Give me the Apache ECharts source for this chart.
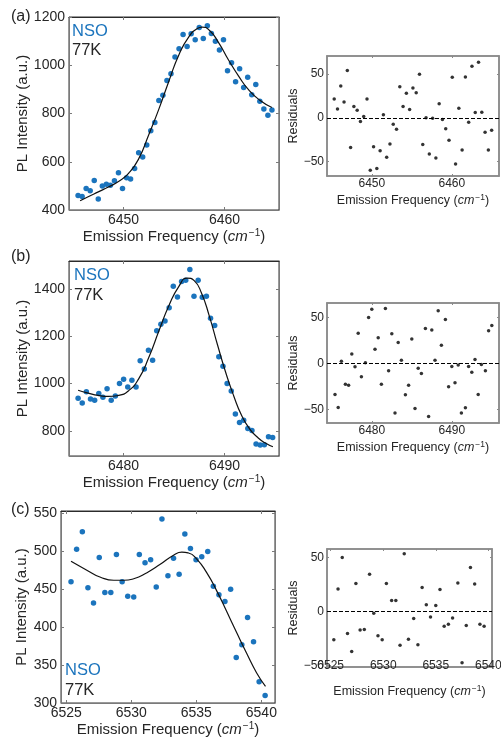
<!DOCTYPE html>
<html><head><meta charset="utf-8">
<script src="https://cdn.jsdelivr.net/npm/echarts@6/dist/echarts.min.js"></script>
<style>html,body{margin:0;padding:0;background:#fff}#c{width:501px;height:741px}</style>
</head><body><div id="c"></div>
<script>
// ---------- DATA ----------
// Panel (a)
const aX = [6445.5,6445.9,6446.3,6446.7,6447.1,6447.5,6447.9,6448.3,6448.7,6449.1,6449.5,6449.9,6450.3,6450.7,6451.1,6451.5,6451.9,6452.3,6452.7,6453.1,6453.5,6453.9,6454.3,6454.7,6455.1,6455.5,6455.9,6456.3,6456.7,6457.1,6457.5,6457.9,6458.3,6458.7,6459.1,6459.5,6459.9,6460.3,6460.7,6461.1,6461.5,6461.9,6462.3,6462.7,6463.1,6463.5,6463.9,6464.3,6464.7];
const aY = [460,456,489,480,522,446,500,507,503,521,554,489,534,529,572,637,620,669,728,763,854,876,937,965,1034,1068,1127,1078,1131,1106,1156,1111,1164,1132,1100,1063,1106,977,1010,932,986,908,950,878,920,851,819,793,814];
const aFitX = [6445.7,6446.5,6447.5,6448.5,6449.5,6450.5,6451.5,6452.5,6453.5,6454.5,6455.5,6456.5,6457.3,6457.8,6458.5,6459.4,6460.4,6461.4,6462.4,6463.5,6464.7];
const aFitY = [438,455,475,495,518,552,612,712,818,935,1045,1120,1152,1158,1145,1095,1022,955,898,855,825];
const aResX = [6445.30,6445.71,6446.12,6446.53,6446.94,6447.35,6447.76,6448.17,6448.58,6448.99,6449.40,6449.81,6450.22,6450.63,6451.04,6451.45,6451.86,6452.27,6452.68,6453.09,6453.50,6453.91,6454.32,6454.73,6455.14,6455.55,6455.96,6456.37,6456.78,6457.19,6457.60,6458.01,6458.42,6458.83,6459.24,6459.65,6460.06,6460.47,6460.88,6461.29,6461.70,6462.11,6462.52,6462.93,6463.34,6463.75,6464.16,6464.57,6464.98];
const aResY = [21.5,10,36.4,18,54,-34,13,8.8,-4.2,1.5,21.5,-60,-33,-58,-37.5,3.4,-45,-30,-7.3,-13,35.6,13,28,9.6,34,28.7,49.8,-30.6,0,-41.4,-0.4,-46,16,-1.9,-12.6,-25.7,46.4,-52.9,11,-36.8,46.7,-5,59,6,63.6,6.5,-16.5,-36.8,-14.2];

// Panel (b)
const bX = [6475.50,6475.91,6476.32,6476.73,6477.14,6477.55,6477.96,6478.37,6478.78,6479.19,6479.60,6480.01,6480.42,6480.83,6481.24,6481.65,6482.06,6482.47,6482.88,6483.29,6483.70,6484.11,6484.52,6484.93,6485.34,6485.75,6486.16,6486.57,6486.98,6487.39,6487.80,6488.21,6488.62,6489.03,6489.44,6489.85,6490.26,6490.67,6491.08,6491.49,6491.90,6492.31,6492.72,6493.13,6493.54,6493.95,6494.36,6494.77];
const bY = [938,918,965,935,930,958,942,978,930,948,1000,1018,986,1014,986,1096,1062,1141,1099,1223,1251,1264,1320,1411,1366,1431,1437,1482,1369,1437,1365,1369,1276,1245,1113,1073,1000,969,871,836,845,810,802,745,740,742,775,772];
const bFitX = [6475.5,6476.5,6477.5,6478.5,6479.5,6480.5,6481.5,6482.5,6483.5,6484.5,6485.5,6486.3,6487.0,6487.7,6488.5,6489.3,6490.1,6490.9,6491.7,6492.5,6493.3,6494.0,6494.8];
const bFitY = [972,960,950,946,950,970,1020,1110,1222,1330,1412,1446,1435,1385,1285,1165,1050,950,865,808,772,750,733];
const bResX = [6475.4,6475.8,6476.2,6476.7,6477.1,6477.5,6477.9,6478.3,6478.7,6479.2,6479.6,6480.0,6480.4,6480.8,6481.2,6481.7,6482.1,6482.5,6482.9,6483.3,6483.7,6484.2,6484.6,6485.0,6485.4,6485.8,6486.2,6486.7,6487.1,6487.5,6487.9,6488.3,6488.7,6489.2,6489.6,6490.0,6490.4,6490.8,6491.2,6491.7,6492.1,6492.5,6492.9,6493.3,6493.7,6494.2,6494.6,6495.0];
const bResY = [-34,-48,2.5,-22.6,-23.7,10.2,-3.6,33,-14.6,0.7,50.2,59.3,15.6,28,-22.6,60,-8,32.4,-54.2,23,3.6,-34.2,-23.7,26.6,-49.1,-5.1,-10.9,38.2,-57.9,36.4,3.6,57.5,20,48,-25.5,-3.3,-21.1,-1.8,-54.2,-48.4,-3.3,-9.5,4.4,-33.8,-1.1,-8,35.7,41.5];

// Panel (c)
const cX = [6525.37,6525.80,6526.24,6526.67,6527.10,6527.54,6527.97,6528.43,6528.86,6529.30,6529.73,6530.19,6530.62,6531.06,6531.49,6531.92,6532.36,6532.82,6533.25,6533.68,6534.12,6534.55,6534.98,6535.42,6535.88,6536.31,6536.74,6537.20,6537.64,6538.07,6538.50,6538.94,6539.40,6539.83,6540.29];
const cY = [460,503,526,452,432,492,446,446,496,460,441,440,496,485,489,453,543,468,491,470,523,504,489,493,500,454,443,434,450,360,377,413,381,328,310];
const cFitX = [6525.37,6526.62,6527.64,6528.66,6529.43,6530.19,6531.21,6532.23,6533.25,6533.89,6534.40,6535.04,6535.80,6536.57,6537.33,6538.10,6538.86,6539.63,6540.32];
const cFitY = [487,475,466,462,462,464,472,483,495,499,498,490,472,448,421,393,366,340,322];
const cResX = [6525.3,6525.7,6526.1,6526.6,6527.0,6527.4,6527.8,6528.2,6528.7,6529.1,6529.5,6529.9,6530.3,6530.8,6531.2,6531.6,6532.0,6532.4,6532.9,6533.3,6533.7,6534.1,6534.5,6535.0,6535.4,6535.8,6536.2,6536.6,6537.1,6537.5,6537.9,6538.3,6538.7,6539.2,6539.6];
const cResY = [-26,20.8,49.9,-20.4,-36.9,26,-17,-16.7,34.4,-1.5,-22.3,-26,26,10.2,10.2,-31.3,53.3,-25.7,-6.5,-30.7,22.3,6.2,-5,5.6,20.4,-13.6,-11.8,-5.9,26.3,-47.4,-13,40.6,25.4,-11.8,-13.6];

// Tick labels
const aXTicks = [6450, 6460];
const aYTicks = [400, 600, 800, 1000, 1200];
const bXTicks = [6480, 6490];
const bYTicks = [800, 1000, 1200, 1400];
const cXTicks = [6525, 6530, 6535, 6540];
const cYTicks = [300, 350, 400, 450, 500, 550];
const resYTicks = [-50, 0, 50];

const panelLabels = ['(a)', '(b)', '(c)'];
const sampleName = 'NSO';
const tempName = '77K';
const yName = 'PL Intensity (a.u.)';
const resName = 'Residuals';

// ---------- BUILD ----------
const FONT = '"Liberation Sans", Arial, Helvetica, sans-serif';
const BLUE = '#1b74bd';
const grids = [], xAxes = [], yAxes = [], series = [];
const pair = (xs, ys) => xs.map((x, i) => [x, ys[i]]);
const fmt = v => (v < 0 ? '\u2212' + Math.abs(v) : String(v));

function xName(fs, sup) {
  return {
    name: '{n|Emission Frequency (}{i|cm}{s|\u22121}{n|)}',
    nameTextStyle: {
      rich: {
        n: {fontSize: fs, fontFamily: FONT, color: '#262626'},
        i: {fontSize: fs, fontFamily: FONT, fontStyle: 'italic', color: '#262626'},
        s: {fontSize: sup, fontFamily: FONT, color: '#262626', padding: [0, 0, Math.round(fs*0.55), 1]}
      }
    }
  };
}

function addPanel(cfg) {
  const gi = grids.length;
  grids.push({left: cfg.left, top: cfg.top, width: cfg.width, height: cfg.height,
    show: true, borderColor: cfg.frame, borderWidth: cfg.frameW, outerBoundsMode: 'none', containLabel: false});
  const xi = xAxes.length, yi = yAxes.length;
  const xn = xName(cfg.nameFs, cfg.supFs);
  xAxes.push(Object.assign({
    type: 'value', gridIndex: gi, min: cfg.xr[0], max: cfg.xr[1], position: 'bottom',
    nameLocation: 'middle', nameGap: cfg.xNameGap,
    axisLine: {show: true, onZero: false, lineStyle: {color: cfg.axisColor, width: cfg.frameW}},
    axisTick: {show: true, inside: true, length: cfg.tickLen, customValues: cfg.xt, lineStyle: {color: cfg.axisColor}},
    axisLabel: {customValues: cfg.xt, margin: cfg.xLabelMargin, fontSize: cfg.tickFs, fontFamily: FONT, color: '#262626',
      formatter: fmt, showMinLabel: true, showMaxLabel: true},
    splitLine: {show: false}
  }, xn));
  xAxes.push({
    type: 'value', gridIndex: gi, min: cfg.xr[0], max: cfg.xr[1], position: 'top',
    axisLine: {show: true, onZero: false, lineStyle: {color: cfg.topColor, width: cfg.frameW}},
    axisTick: {show: true, inside: true, length: cfg.tickLen, customValues: cfg.xt, lineStyle: {color: cfg.axisColor}},
    axisLabel: {show: false}, splitLine: {show: false}
  });
  yAxes.push({
    type: 'value', gridIndex: gi, min: cfg.yr[0], max: cfg.yr[1], position: 'left',
    name: cfg.yName, nameLocation: 'middle', nameGap: cfg.yNameGap,
    nameTextStyle: {fontSize: cfg.nameFs, fontFamily: FONT, color: '#262626'},
    axisLine: {show: true, onZero: false, lineStyle: {color: cfg.axisColor, width: cfg.frameW}},
    axisTick: {show: true, inside: true, length: cfg.tickLen, customValues: cfg.yt, lineStyle: {color: cfg.axisColor}},
    axisLabel: {customValues: cfg.yt, margin: cfg.yLabelMargin, fontSize: cfg.tickFs, fontFamily: FONT, color: '#262626',
      formatter: fmt},
    splitLine: {show: false}
  });
  yAxes.push({
    type: 'value', gridIndex: gi, min: cfg.yr[0], max: cfg.yr[1], position: 'right',
    axisLine: {show: true, onZero: false, lineStyle: {color: cfg.axisColor, width: cfg.frameW}},
    axisTick: {show: true, inside: true, length: cfg.tickLen, customValues: cfg.yt, lineStyle: {color: cfg.axisColor}},
    axisLabel: {show: false}, splitLine: {show: false}
  });
  return {xi, yi};
}

function mainPanel(g, xr, yr, xt, yt, pts, fit, yNameGap) {
  const {xi, yi} = addPanel({left: g[0], top: g[1], width: g[2], height: g[3], xr, yr, xt, yt,
    frame: '#333', frameW: 1, axisColor: '#7a7a7a', topColor: '#2b2b2b', tickLen: 3,
    nameFs: 15, supFs: 10, tickFs: 14, xNameGap: 17, yNameGap, xLabelMargin: 3, yLabelMargin: 4, yName: yName});
  series.push({type: 'line', xAxisIndex: xi, yAxisIndex: yi, data: fit, smooth: 0.55,
    showSymbol: false, lineStyle: {color: '#111', width: 1.2}, z: 3, silent: true});
  series.push({type: 'scatter', xAxisIndex: xi, yAxisIndex: yi, data: pts, symbolSize: 5.5,
    itemStyle: {color: BLUE, opacity: 1}, z: 2, silent: true});
}

function resPanel(g, xr, yr, xt, pts, xLabelMargin) {
  const {xi, yi} = addPanel({left: g[0], top: g[1], width: g[2], height: g[3], xr, yr, xt, yt: resYTicks,
    frame: '#8a8a8a', frameW: 1.5, axisColor: '#8a8a8a', topColor: '#8a8a8a', tickLen: 2,
    nameFs: 12.5, supFs: 8.5, tickFs: 12, xNameGap: 17, yNameGap: 25, xLabelMargin, yLabelMargin: 3, yName: resName});
  series.push({type: 'scatter', xAxisIndex: xi, yAxisIndex: yi, data: pts, symbolSize: 3.5,
    itemStyle: {color: '#000'}, z: 3, silent: true,
    markLine: {silent: true, symbol: 'none', label: {show: false},
      lineStyle: {color: '#000', type: [4, 2], width: 1.1}, data: [{yAxis: 0}]}});
}

mainPanel([69, 17, 210, 193], [6444.6, 6465.4], [400, 1200], aXTicks, aYTicks, pair(aX, aY), pair(aFitX, aFitY), 33);
resPanel([327, 56, 172, 120], [6444.4, 6465.9], [-66.5, 70.7], aXTicks, pair(aResX, aResY), 2);
mainPanel([69, 261, 210, 195], [6474.6, 6495.4], [694, 1518], bXTicks, bYTicks, pair(bX, bY), pair(bFitX, bFitY), 33);
resPanel([327, 303, 172, 120], [6474.4, 6495.9], [-65, 66], bXTicks, pair(bResX, bResY), 2);
mainPanel([61, 511, 214, 192], [6524.6, 6541.05], [300, 553.4], cXTicks, cYTicks, pair(cX, cY), pair(cFitX, cFitY), 25);
resPanel([327, 549, 165, 118], [6524.65, 6540.35], [-51.3, 57.8], cXTicks, pair(cResX, cResY), -7);

function txt(s, x, y, size, color) {
  return {type: 'text', left: x, top: y, style: {text: s, font: size + 'px ' + FONT, fill: color}, z: 10, silent: true};
}
const graphics = [
  txt(panelLabels[0], 11, 9, 16, '#262626'),
  txt(panelLabels[1], 11, 249, 16, '#262626'),
  txt(panelLabels[2], 11, 502, 16, '#262626'),
  txt(sampleName, 72, 23, 16.5, BLUE), txt(tempName, 72, 42, 16.5, '#262626'),
  txt(sampleName, 74, 267, 16.5, BLUE), txt(tempName, 74, 287, 16.5, '#262626'),
  txt(sampleName, 65, 662, 16.5, BLUE), txt(tempName, 65, 682, 16.5, '#262626')
];

const chart = echarts.init(document.getElementById('c'), null, {renderer: 'canvas'});
chart.setOption({
  animation: false, backgroundColor: '#fff',
  grid: grids, xAxis: xAxes, yAxis: yAxes, series, graphic: graphics
});
</script></body></html>
